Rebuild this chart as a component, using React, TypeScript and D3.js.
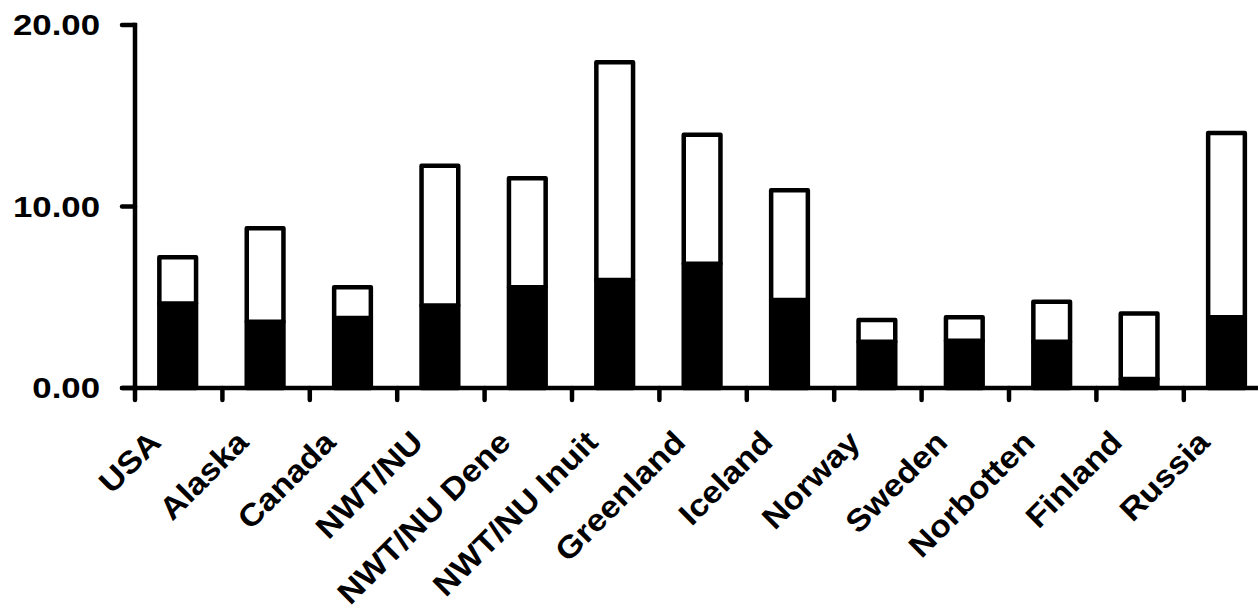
import React from "react";
import * as d3 from "d3";

const categories = [
  "USA", "Alaska", "Canada", "NWT/NU", "NWT/NU Dene", "NWT/NU Inuit",
  "Greenland", "Iceland", "Norway", "Sweden", "Norbotten", "Finland", "Russia",
];
// lower (black) segment
const lowerValues = [4.65, 3.65, 3.85, 4.55, 5.55, 5.95, 6.85, 4.85, 2.55, 2.6, 2.55, 0.5, 3.9];
// upper (white) segment, stacked on the lower one
const upperValues = [2.55, 5.15, 1.7, 7.7, 6.0, 12.0, 7.1, 6.05, 1.2, 1.3, 2.2, 3.6, 10.15];
const yTicks = [0, 10, 20];
const yTickLabels = ["0.00", "10.00", "20.00"];

const W = 1258;
const H = 610;
const FONT = "'Liberation Sans', Arial, Helvetica, sans-serif";
const SW = 4.5;

export default function App() {
  const rows = categories.map((c, i) => ({ cat: c, lower: lowerValues[i], upper: upperValues[i] }));
  const stacked = d3.stack<any>().keys(["lower", "upper"])(rows);

  const x = d3.scaleBand<string>().domain(categories).range([135, 135 + 13 * 87.4]);
  const y = d3.scaleLinear().domain([0, 20]).range([388, 25]);
  const bw = x.bandwidth() * 0.42;
  const fills = ["#000", "#fff"];

  const boundaries = d3.range(categories.length + 1).map((k) => 135 + k * x.step());

  return (
    <svg width={W} height={H} style={{ position: "absolute", left: 0, top: 0 }}>
      <rect width={W} height={H} fill="#fff" />
      {stacked.map((series, si) => (
        <g key={si}>
          {series.map((d, i) => {
            const cx = (x(categories[i]) as number) + x.bandwidth() / 2 - 1;
            return (
              <rect
                key={i}
                x={cx - bw / 2}
                y={y(d[1])}
                width={bw}
                height={y(d[0]) - y(d[1])}
                fill={fills[si]}
                stroke="#000"
                strokeWidth={SW}
                strokeLinejoin="round"
              />
            );
          })}
        </g>
      ))}
      {/* y axis */}
      <line x1={135} x2={135} y1={y(20)} y2={y(0)} stroke="#000" strokeWidth={SW} strokeLinecap="square" />
      {yTicks.map((t, i) => (
        <g key={t}>
          <line x1={122} x2={135} y1={y(t)} y2={y(t)} stroke="#000" strokeWidth={SW} strokeLinecap="round" />
          <text
            transform={`translate(100, ${y(t)}) scale(1.2,1)`}
            textAnchor="end"
            dy="0.36em"
            fontFamily={FONT}
            fontWeight="bold"
            fontSize={29}
            fill="#000"
          >
            {yTickLabels[i]}
          </text>
        </g>
      ))}
      {/* x axis */}
      <line x1={122} x2={W + 10} y1={y(0)} y2={y(0)} stroke="#000" strokeWidth={SW} strokeLinecap="round" />
      {boundaries.map((bx, k) => (
        <line key={k} x1={bx} x2={bx} y1={y(0)} y2={y(0) + 12} stroke="#000" strokeWidth={SW} strokeLinecap="round" />
      ))}
      {categories.map((c) => {
        const cx = (x(c) as number) + x.bandwidth() / 2;
        return (
          <text
            key={c}
            transform={`translate(${cx - 16}, 444) rotate(-45) scale(1.1,1)`}
            textAnchor="end"
            fontFamily={FONT}
            fontWeight="bold"
            fontSize={31}
            fill="#000"
          >
            {c}
          </text>
        );
      })}
    </svg>
  );
}
